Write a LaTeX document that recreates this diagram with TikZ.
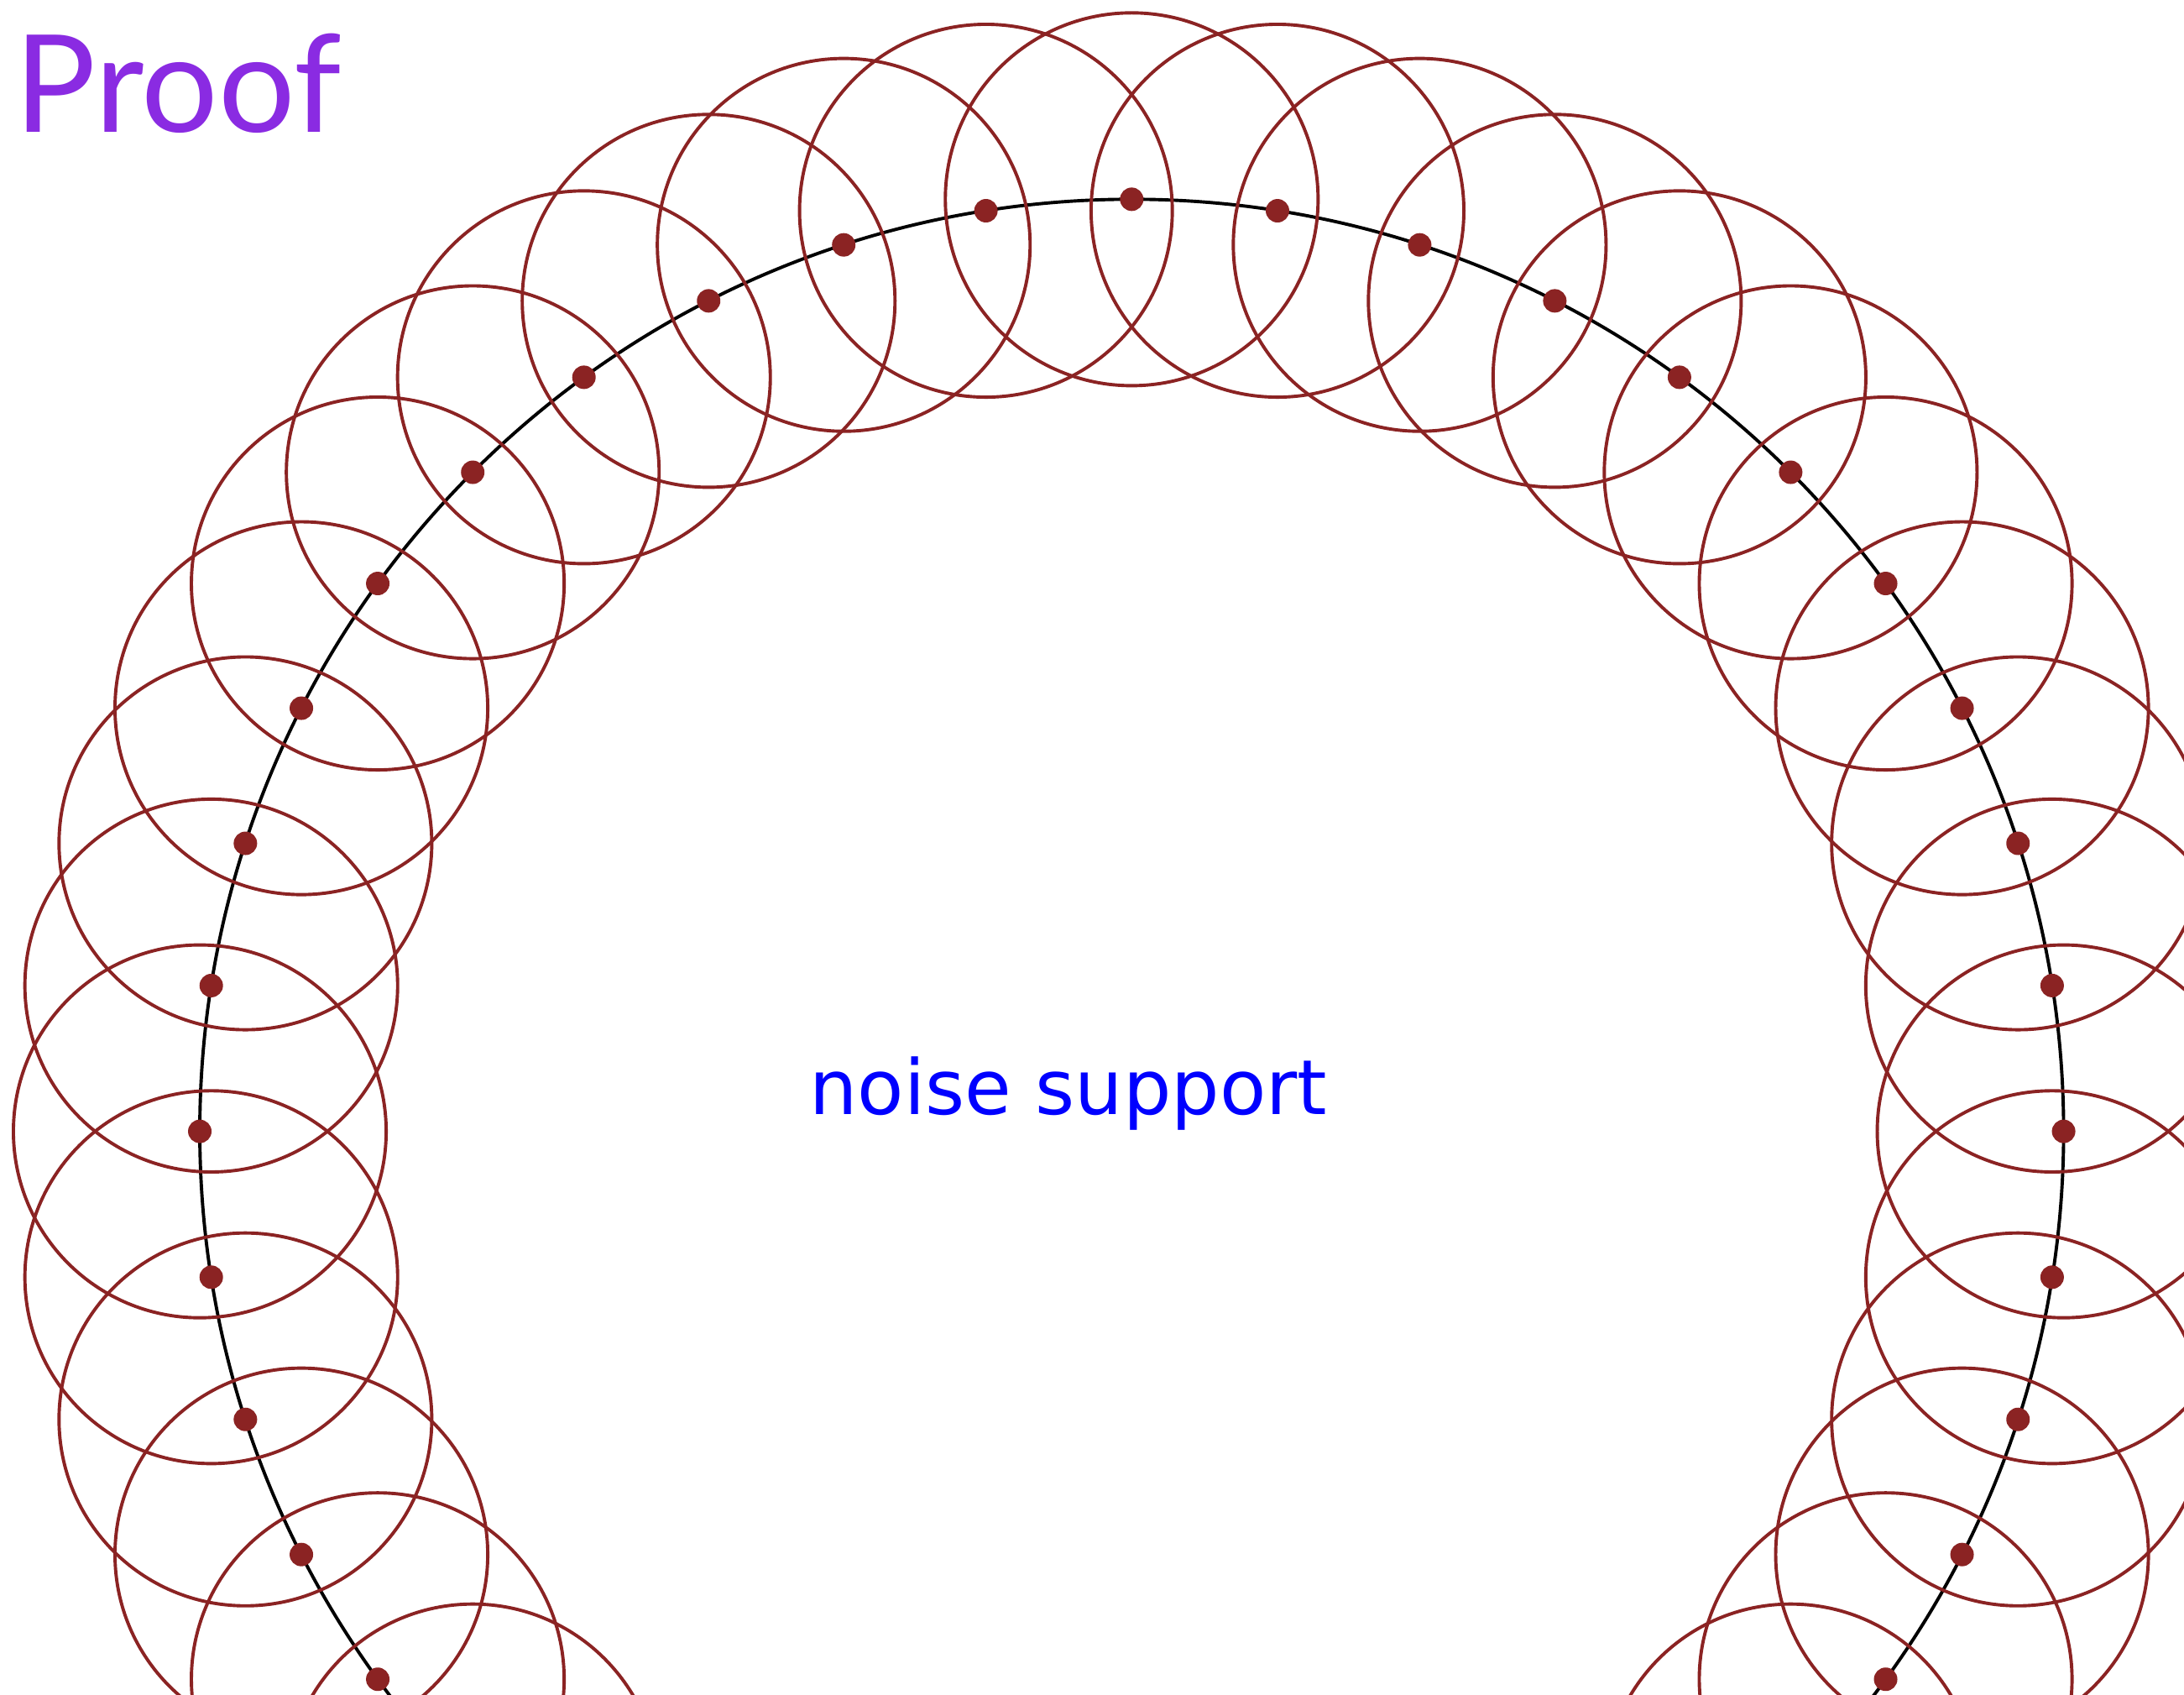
\documentclass[tikz,border=0pt]{standalone}
\usepackage{fontspec}
\usepackage{tikz}
\usetikzlibrary{positioning}
\newfontfamily\titlefont{Lato}
\newfontfamily\labelfont{DejaVu Sans}
\definecolor{dotred}{RGB}{139,35,35}
\definecolor{titlepurple}{RGB}{138,43,226}
\tikzset{
  sample/.style={circle, fill=dotred, inner sep=0pt, minimum size=0.126cm},
  ball/.style={draw=dotred, line width=0.5pt}
}

\begin{document}
\begin{tikzpicture}
        \useasboundingbox (-6.072,-3.019) rectangle (5.646,6.069);
        \clip (-6.072,-3.019) rectangle (5.646,6.069);
        \draw [black, line width=0.5pt] (0,0) circle (5);
        \foreach \i in {0,...,39} {
          \node [sample] (p\i) at ({90+9*\i}:5) {};
          \draw [ball] (p\i.center) circle (1);
        }
        \node [anchor=base west, text=titlepurple, inner sep=0pt] (title) at (-6.0,5.359) {\titlefont\fontsize{20.7}{24}\selectfont Proof};
        \node [anchor=base, text=blue, inner sep=0pt] (support) at (-0.34,0.09) {\labelfont\fontsize{11.6}{14}\selectfont noise support};
      \end{tikzpicture}
\end{document}
